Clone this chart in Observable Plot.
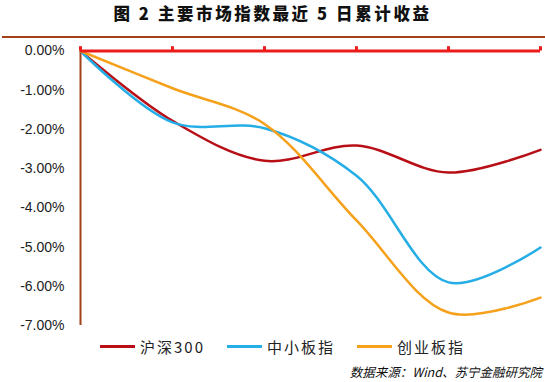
<!DOCTYPE html>
<html><head><meta charset="utf-8">
<script src="https://cdn.jsdelivr.net/npm/d3@7"></script>
<script src="https://cdn.jsdelivr.net/npm/@observablehq/plot@0.6"></script>
<style>
body{margin:0;background:#fff;width:545px;height:382px;position:relative;overflow:hidden;font-family:"Noto Sans CJK SC","Liberation Sans",sans-serif;}
#title{position:absolute;left:0;top:0;width:545px;text-align:center;font-size:16.5px;font-weight:900;line-height:27px;letter-spacing:2.6px;color:#111;}
#sep{position:absolute;left:2px;top:36px;width:543px;height:2px;background:#a0411a;}
#chart{position:absolute;left:0;top:38px;}
#legend{position:absolute;left:100px;top:336px;display:flex;gap:22px;align-items:center;height:20px;}
.item{display:flex;align-items:center;gap:5px;font-size:15px;letter-spacing:2px;color:#222;}
.sw{width:35px;height:3px;}
#caption{position:absolute;right:3px;top:364px;font-size:12.5px;font-style:italic;color:#111;line-height:16px;}
</style></head>
<body>
<div id="title">图 2 主要市场指数最近 5 日累计收益</div>
<div id="sep"></div>
<div id="chart"></div>
<div id="legend"></div>
<div id="caption">数据来源：Wind、苏宁金融研究院</div>
<script>
const days = [0, 1, 2, 3, 4, 5];
const seriesNames = ["沪深300", "中小板指", "创业板指"];
const hs300 = [0, -1.78, -2.80, -2.41, -3.10, -2.52];
const zxbz = [0, -1.82, -1.97, -3.18, -5.90, -5.01];
const cybz = [0, -0.95, -1.86, -4.32, -6.67, -6.29];
const colors = ["#b80f17", "#25ade6", "#f5a11c"];
const yTicks = [0, -1, -2, -3, -4, -5, -6, -7];

const values = [hs300, zxbz, cybz];
const rows = [];
seriesNames.forEach((s, i) => days.forEach((d, j) => rows.push({series: s, day: d, value: values[i][j]})));

const svg = Plot.plot({
  width: 545,
  height: 300,
  marginLeft: 80,
  marginRight: 5,
  marginTop: 12.5,
  marginBottom: 13,
  style: {fontFamily: "'Liberation Sans', Arial, sans-serif", fontSize: "14px", color: "#222", background: "#fff"},
  x: {domain: [0, 5], axis: null},
  y: {domain: [-7, 0], label: null},
  color: {domain: seriesNames, range: colors},
  marks: [
    Plot.axisY({ticks: yTicks, tickFormat: d => d.toFixed(2) + "%", tickSize: 0, tickPadding: 16, label: null, style: {letterSpacing: "1.5px"}}),
    Plot.ruleX([0], {y1: -7, y2: 0, stroke: "#a0411a", strokeWidth: 2}),
    Plot.line(rows, {x: "day", y: "value", z: "series", stroke: "series", strokeWidth: 2.5, curve: "catmull-rom"}),
    Plot.ruleY([0], {x1: 0, x2: 5, stroke: "#ec1c1c", strokeWidth: 3}),
    Plot.ruleX(days, {x: d => d, y1: 0, y2: 0.11, stroke: "#ec1c1c", strokeWidth: 3})
  ]
});
document.getElementById("chart").appendChild(svg);

const legend = document.getElementById("legend");
seriesNames.forEach((s, i) => {
  const it = document.createElement("div");
  it.className = "item";
  const sw = document.createElement("div");
  sw.className = "sw";
  sw.style.background = colors[i];
  const t = document.createElement("span");
  t.textContent = s;
  it.appendChild(sw);
  it.appendChild(t);
  legend.appendChild(it);
});
</script>
</body></html>
